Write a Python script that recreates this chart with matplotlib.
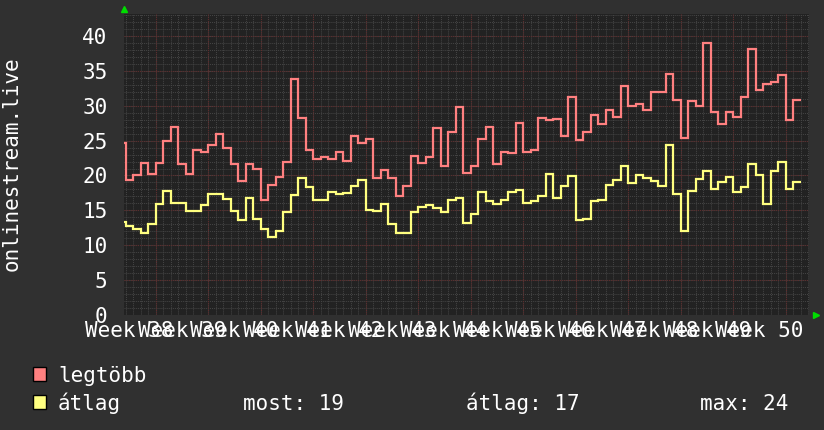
import numpy as np
import matplotlib
matplotlib.use("Agg")
import matplotlib.pyplot as plt
from matplotlib.patches import Rectangle
import matplotlib.transforms as mtransforms

# daily values, first one is only partly visible at the left edge
legtobb = [24.6,
           19.4, 20.1, 21.8, 20.2, 21.8, 25.0, 27.0, 21.6, 20.2, 23.6,
           23.3, 24.3, 25.9, 23.9, 21.6, 19.2, 21.7, 21.0, 16.5, 18.6,
           19.8, 22.0, 33.9, 28.3, 23.6, 22.3, 22.6, 22.3, 23.3, 22.1,
           25.7, 24.7, 25.2, 19.6, 20.8, 19.6, 17.0, 18.5, 22.8, 21.8,
           22.7, 26.8, 21.4, 26.3, 29.8,
           20.3, 21.3, 25.2, 27.0, 21.7, 23.4, 23.2, 27.5, 23.4, 23.6,
           28.2, 27.9, 28.1, 25.7, 31.3, 25.1, 26.3, 28.7, 27.4, 29.4,
           28.4, 32.8, 30.0, 30.2, 29.4, 32.0, 31.9, 34.6, 30.8, 25.4,
           30.7, 29.9, 39.0, 29.1, 27.4, 29.1, 28.4, 31.2, 38.2, 32.3,
           33.1, 33.4, 34.4, 28.0, 30.8]
atlag = [13.4,
         12.8, 12.3, 11.8, 13.1, 15.9, 17.8, 16.1, 16.0, 14.95, 14.95,
         15.7, 17.4, 17.3, 16.6, 14.9, 13.6, 16.8, 13.8, 12.3, 11.2,
         12.0, 14.8, 17.2, 19.7, 18.4, 16.5, 16.5, 17.7, 17.4, 17.5,
         18.5, 19.4, 15.0, 14.9, 15.9, 13.1, 11.7, 11.7, 14.7, 15.5,
         15.7, 15.4, 14.8, 16.5, 16.8,
         13.2, 14.5, 17.7, 16.4, 15.9, 16.5, 17.6, 17.9, 16.0, 16.4,
         17.1, 20.2, 16.8, 18.5, 19.9, 13.6, 13.8, 16.4, 16.5, 18.6,
         19.4, 21.3, 18.9, 20.1, 19.6, 19.2, 18.5, 24.3, 17.3, 12.0,
         17.8, 19.5, 20.7, 18.1, 19.1, 19.8, 17.7, 18.3, 21.6, 20.0,
         15.9, 20.7, 21.9, 18.0, 19.1]
weeks = [38, 39, 40, 41, 42, 43, 44, 45, 46, 47, 48, 49, 50]
series_names = ["legtöbb", "átlag"]
stats_text = ["most: 19", "átlag: 17", "max: 24"]

BG = "#303030"
PLOT_BG = "#222222"
RED = "#ff8080"
YELLOW = "#ffff80"
MINOR_GRID = "#454545"
MAJOR_GRID = "#5e2c2c"
MONO = "DejaVu Sans Mono"
FS = 15

fig = plt.figure(figsize=(8.24, 4.30), dpi=100, facecolor=BG)
W, H = 824, 430
ax = fig.add_axes([124 / W, 1 - 315 / H, (809 - 124) / W, (315 - 14) / H])
ax.set_facecolor(PLOT_BG)

n = len(legtobb)
edges = np.arange(-1, n)  # value i covers day [i-1, i]
ax.set_xlim(-0.2, 91.13)
ax.set_ylim(0, 43.15)

# grid
for d in range(0, 92):
    ax.axvline(d, color=MINOR_GRID, lw=0.7, ls=(0, (1, 1)), zorder=1)
for v in range(1, 44):
    ax.axhline(v, color=MINOR_GRID, lw=0.7, ls=(0, (1, 1)), zorder=1)
week_lines = 4 + 7 * np.arange(len(weeks))
for d in week_lines:
    ax.axvline(d, color=MAJOR_GRID, lw=0.8, ls=(0, (1, 1)), zorder=2)
for v in range(5, 45, 5):
    ax.axhline(v, color=MAJOR_GRID, lw=0.8, ls=(0, (1, 1)), zorder=2)

ax.stairs(legtobb, edges, baseline=None, color=RED, lw=1.6, zorder=3)
ax.stairs(atlag, edges, baseline=None, color=YELLOW, lw=1.6, zorder=3)

for s in ax.spines.values():
    s.set_visible(False)

ax.set_yticks(range(0, 41, 5))
ax.tick_params(axis="y", length=0, pad=12, labelcolor="white", labelsize=FS)
for lab in ax.get_yticklabels():
    lab.set_family(MONO)
ax.set_xticks([])

# week labels centered on the week before each week line
trans = mtransforms.blended_transform_factory(ax.transData, fig.transFigure)
for w, d in zip(weeks, week_lines):
    ax.text(d - 3.5, 1 - 337 / H, f"Week {w}", transform=trans, ha="center",
            va="baseline", color="white", fontsize=FS, family=MONO, clip_on=False)

# axis arrows
ax.plot([0], [1.015], marker="^", color="#00dd00", ms=5, transform=ax.transAxes,
        clip_on=False, zorder=5)
ax.plot([1.01], [0], marker=">", color="#00dd00", ms=5, transform=ax.transAxes,
        clip_on=False, zorder=5)

fig.text(12 / W, 1 - 164 / H, "onlinestream.live", rotation=90, ha="center",
         va="center", color="white", fontsize=FS, family=MONO)

# legend
for i, (name, col) in enumerate(zip(series_names, [RED, YELLOW])):
    base = 382 + 28 * i
    fig.patches.append(Rectangle((33 / W, 1 - (base - 1) / H), 13 / W, 14 / H,
                                 transform=fig.transFigure, facecolor=col,
                                 edgecolor="black", lw=1))
    fig.text(58 / W, 1 - base / H, name, ha="left", va="baseline",
             color="white", fontsize=FS, family=MONO)
for txt, x in zip(stats_text, [243, 466, 700]):
    fig.text(x / W, 1 - 410 / H, txt, ha="left", va="baseline",
             color="white", fontsize=FS, family=MONO)

fig.savefig("out.png", dpi=100, facecolor=BG)
